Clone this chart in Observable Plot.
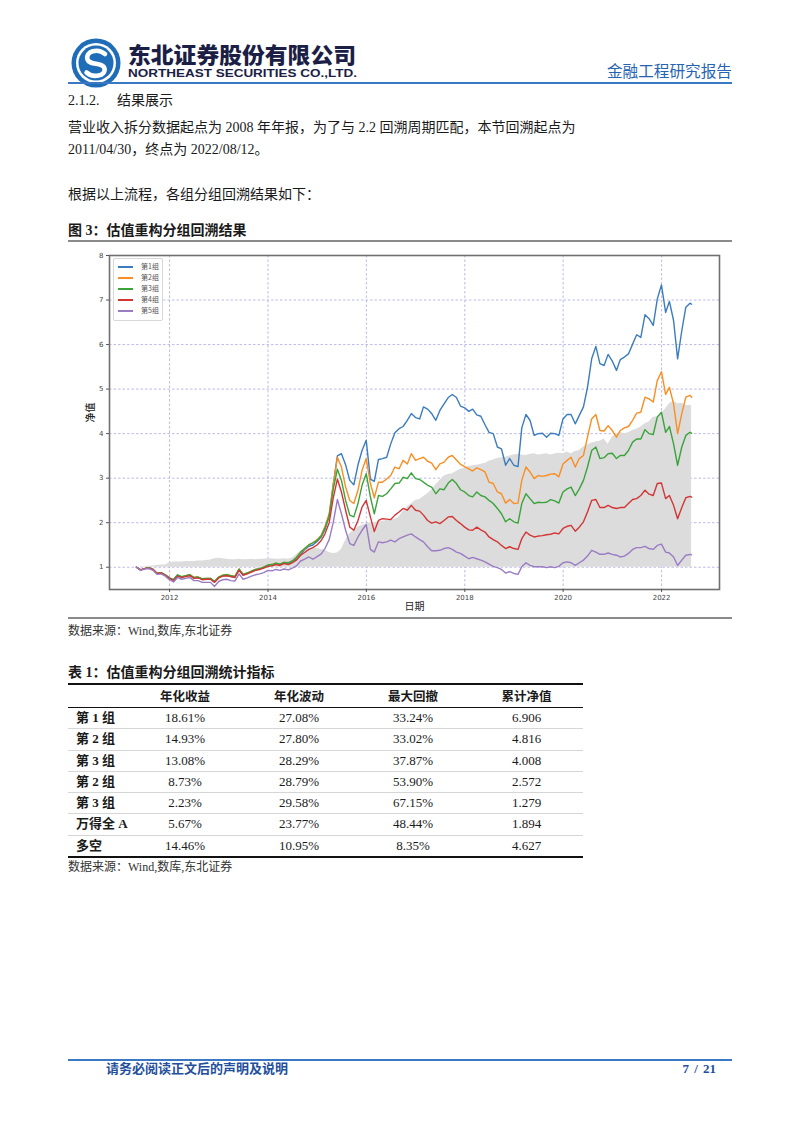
<!DOCTYPE html>
<html>
<head>
<meta charset="utf-8">
<script src="https://cdn.jsdelivr.net/npm/d3@7"></script>
<script src="https://cdn.jsdelivr.net/npm/@observablehq/plot@0.6"></script>
<style>
  body { margin: 0; background: #fff; }
  #page { position: relative; width: 802px; height: 1133px; overflow: hidden;
          font-family: "Liberation Serif", "Noto Sans CJK SC", serif; color: #1a1a1a; }
  .t { position: absolute; white-space: nowrap; }
  .rule { position: absolute; }
  .body14 { font-size: 14px; line-height: 20px; font-weight: 400; }
  .bold14 { font-size: 14px; line-height: 20px; font-weight: 700; }
  .src { font-size: 12px; line-height: 16px; color: #333; }
  #legend { position: absolute; left: 45px; top: 10px; width: 48px; height: 61px;
            border: 1px solid #d8d8d8; border-radius: 2px; background: rgba(255,255,255,0.9);
            font-family: "Noto Sans CJK SC", sans-serif; font-size: 7px; color: #555; }
  #legend .it { position: absolute; left: 0; height: 10px; line-height: 10px; }
  #legend .sw { position: absolute; left: 4px; top: 5px; width: 15px; height: 1.5px; }
  #legend .lb { position: absolute; left: 27px; top: 0; }
  #tbl { position: absolute; left: 68px; top: 683px; width: 515px; }
  #tbl .row { display: grid; grid-template-columns: 60px 114px 114px 114px 113px; }
  #tbl .cell { text-align: center; font-size: 13px; }
  #tbl .lab { text-align: left; padding-left: 8px; font-weight: 700; font-size: 13px; }
</style>
</head>
<body>
<div id="page">
  <!-- header -->
  <svg class="t" style="left:71px;top:38px" width="50" height="50" viewBox="0 0 50 50">
    <circle cx="25" cy="25" r="24.5" fill="#1f6cb8"/>
    <circle cx="25" cy="25" r="20" fill="#fff"/>
    <circle cx="25" cy="25" r="17.5" fill="#1f6cb8"/>
    <path d="M34 16 C 27 10, 14 13, 16.5 21.5 C 18.5 28, 32 23.5, 33.5 30.5 C 35 38, 22 40.5, 15.5 34.5" stroke="#fff" stroke-width="4.6" fill="none" stroke-linecap="round"/>
  </svg>
  <div class="t" id="cname" style="left:128px;top:41px;font-family:'Noto Sans CJK SC';font-weight:900;font-size:22px;line-height:24px;color:#1b1e45;transform-origin:0 0;">东北证券股份有限公司</div>
  <div class="t" id="ename" style="left:128px;top:67px;font-family:'Liberation Sans';font-weight:700;font-size:11.5px;line-height:12px;color:#1b1e45;transform-origin:0 0;">NORTHEAST SECURITIES CO.,LTD.</div>
  <div class="t" id="rtitle" style="left:607px;top:60px;font-family:'Noto Sans CJK SC';font-weight:400;font-size:15.5px;line-height:20px;color:#2563b3;transform-origin:0 0;">金融工程研究报告</div>
  <div class="rule" style="left:68px;top:82px;width:664px;height:2px;background:#3b78c4;"></div>

  <!-- body text -->
  <div class="t body14" style="left:68px;top:91px;">2.1.2.</div>
  <div class="t body14" style="left:117px;top:91px;">结果展示</div>
  <div class="t body14" style="left:68px;top:118px;">营业收入拆分数据起点为 2008 年年报，为了与 2.2 回溯周期匹配，本节回溯起点为</div>
  <div class="t body14" style="left:68px;top:140px;">2011/04/30，终点为 2022/08/12。</div>
  <div class="t body14" style="left:68px;top:185px;">根据以上流程，各组分组回溯结果如下：</div>

  <div class="t bold14" style="left:68px;top:221px;">图 3：估值重构分组回溯结果</div>
  <div class="rule" style="left:68px;top:240px;width:664px;height:2px;background:#8a8a8a;"></div>

  <div id="chart" style="position:absolute;left:68px;top:248px;width:664px;height:364px;"></div>

  <div class="rule" style="left:68px;top:617px;width:664px;height:2px;background:#8a8a8a;"></div>
  <div class="t src" style="left:68px;top:623px;">数据来源：Wind,数库,东北证券</div>

  <div class="t bold14" style="left:68px;top:663px;">表 1：估值重构分组回溯统计指标</div>
  <div id="tbl"></div>
  <div class="t src" style="left:68px;top:859px;">数据来源：Wind,数库,东北证券</div>

  <!-- footer -->
  <div class="rule" style="left:68px;top:1059px;width:664px;height:1.5px;background:#3b78c4;"></div>
  <div class="t" style="left:106px;top:1061px;font-size:13px;line-height:16px;font-weight:700;color:#234f9c;">请务必阅读正文后的声明及说明</div>
  <div class="t" style="right:86px;top:1061px;font-size:13px;line-height:16px;font-weight:700;color:#234f9c;word-spacing:2px;">7 / 21</div>
</div>

<script>
// ---------------- data ----------------
const seriesNames = ["第1组", "第2组", "第3组", "第4组", "第5组"];
const seriesColors = ["#3a7cbd", "#f98e22", "#3aa33a", "#d33535", "#9a7bc4"];

const group1 = [
  1.00,0.94,0.97,0.99,0.95,0.86,0.88,0.82,0.75,0.72,
  0.82,0.78,0.80,0.83,0.76,0.77,0.73,0.74,0.74,0.67,
  0.77,0.81,0.82,0.79,0.78,0.96,0.83,0.86,0.90,0.94,
  0.96,0.99,1.04,1.05,1.08,1.06,1.10,1.08,1.12,1.18,
  1.28,1.40,1.47,1.50,1.58,1.68,1.85,2.15,2.85,3.50,
  3.55,3.30,2.95,2.85,3.30,3.62,3.85,2.98,2.93,3.42,
  3.44,3.47,3.77,4.02,4.11,4.16,4.30,4.45,4.36,4.33,
  4.60,4.55,4.45,4.30,4.52,4.67,4.81,4.88,4.81,4.62,
  4.58,4.50,4.55,4.42,4.39,4.20,4.03,4.00,3.70,3.66,
  3.29,3.44,3.29,3.26,4.13,4.43,4.30,3.96,4.00,4.01,
  3.92,4.01,4.00,3.96,4.33,4.43,4.43,4.22,4.41,4.60,
  5.04,5.68,5.96,5.57,5.53,5.78,5.63,5.42,5.66,5.72,
  5.79,6.01,6.22,6.16,6.67,6.58,6.43,7.02,7.34,6.72,
  6.97,6.54,5.68,6.31,6.84,6.93,6.906
];
const group2 = [
  1.00,0.94,0.97,0.99,0.95,0.87,0.88,0.83,0.76,0.71,
  0.81,0.78,0.81,0.83,0.77,0.78,0.74,0.75,0.75,0.68,
  0.78,0.82,0.84,0.81,0.80,0.96,0.84,0.87,0.91,0.95,
  0.97,1.00,1.05,1.06,1.09,1.07,1.11,1.10,1.14,1.22,
  1.33,1.42,1.50,1.55,1.62,1.72,1.92,2.20,2.85,3.47,
  3.25,2.80,2.50,2.43,2.73,3.17,3.44,2.88,2.56,2.91,
  2.91,2.98,3.06,3.25,3.21,3.40,3.32,3.55,3.40,3.44,
  3.47,3.38,3.34,3.19,3.32,3.36,3.47,3.51,3.41,3.31,
  3.26,3.21,3.16,3.23,3.19,3.14,2.91,2.88,2.69,2.65,
  2.44,2.52,2.43,2.44,2.95,3.25,3.14,2.99,3.06,3.04,
  3.06,3.09,3.10,3.03,3.32,3.40,3.47,3.25,3.44,3.51,
  3.92,4.33,4.43,4.07,4.06,4.18,4.07,3.92,4.07,4.13,
  4.16,4.30,4.46,4.48,4.82,4.78,4.71,5.19,5.39,4.88,
  5.04,4.67,4.00,4.45,4.82,4.86,4.816
];
const group3 = [
  1.00,0.94,0.97,0.99,0.95,0.86,0.88,0.83,0.76,0.72,
  0.83,0.79,0.81,0.83,0.77,0.78,0.74,0.75,0.75,0.68,
  0.78,0.82,0.83,0.81,0.79,0.95,0.84,0.87,0.91,0.95,
  0.97,1.00,1.05,1.06,1.09,1.07,1.11,1.10,1.14,1.22,
  1.34,1.42,1.50,1.55,1.60,1.70,1.88,2.15,2.75,3.20,
  2.95,2.50,2.17,2.13,2.43,2.84,3.10,2.58,2.20,2.61,
  2.59,2.65,2.76,2.88,2.89,3.02,2.99,3.12,2.99,2.97,
  2.91,2.84,2.80,2.65,2.76,2.74,2.89,2.97,2.88,2.74,
  2.69,2.61,2.58,2.69,2.61,2.58,2.50,2.43,2.32,2.20,
  2.02,2.09,2.02,1.99,2.43,2.65,2.54,2.43,2.46,2.45,
  2.46,2.52,2.49,2.44,2.69,2.76,2.80,2.61,2.76,2.95,
  3.25,3.62,3.70,3.44,3.46,3.55,3.56,3.44,3.51,3.51,
  3.62,3.81,3.88,3.88,4.09,4.00,3.98,4.37,4.48,4.03,
  4.16,3.77,3.29,3.70,3.96,4.03,4.008
];
const group4 = [
  1.00,0.94,0.97,0.98,0.95,0.86,0.87,0.82,0.75,0.70,
  0.80,0.77,0.79,0.81,0.75,0.76,0.72,0.73,0.73,0.66,
  0.76,0.80,0.81,0.79,0.77,0.93,0.82,0.85,0.89,0.93,
  0.95,0.98,1.02,1.03,1.06,1.04,1.08,1.06,1.10,1.16,
  1.27,1.33,1.40,1.44,1.50,1.60,1.75,2.00,2.55,2.98,
  2.69,2.28,1.90,1.83,2.05,2.35,2.50,2.13,1.80,2.05,
  2.09,2.08,2.07,2.17,2.24,2.32,2.28,2.39,2.28,2.26,
  2.17,2.05,1.99,2.02,1.98,2.05,2.13,2.14,2.05,1.98,
  1.90,1.84,1.83,1.90,1.84,1.79,1.68,1.62,1.57,1.49,
  1.42,1.46,1.42,1.40,1.64,1.79,1.72,1.68,1.70,1.71,
  1.73,1.74,1.77,1.75,1.87,1.92,1.94,1.81,1.90,2.02,
  2.24,2.50,2.52,2.34,2.34,2.39,2.34,2.32,2.34,2.34,
  2.43,2.52,2.54,2.61,2.73,2.64,2.61,2.88,2.89,2.54,
  2.61,2.39,2.09,2.34,2.56,2.59,2.572
];
const group5 = [
  1.00,0.93,0.96,0.97,0.93,0.84,0.85,0.80,0.72,0.67,
  0.77,0.73,0.75,0.77,0.70,0.70,0.66,0.66,0.66,0.57,
  0.68,0.72,0.73,0.70,0.69,0.85,0.73,0.76,0.80,0.83,
  0.85,0.88,0.93,0.92,0.95,0.93,0.96,0.94,0.98,1.03,
  1.14,1.18,1.23,1.18,1.24,1.30,1.42,1.62,2.00,2.52,
  2.20,1.83,1.53,1.49,1.68,1.83,1.96,1.40,1.34,1.57,
  1.55,1.57,1.61,1.57,1.64,1.68,1.72,1.75,1.68,1.62,
  1.57,1.46,1.37,1.37,1.38,1.42,1.44,1.40,1.34,1.31,
  1.25,1.19,1.22,1.19,1.16,1.12,1.07,1.02,0.99,0.95,
  0.87,0.90,0.86,0.84,1.01,1.10,1.04,1.01,1.01,1.01,
  0.99,1.01,0.99,1.02,1.10,1.12,1.10,1.04,1.10,1.16,
  1.25,1.38,1.34,1.29,1.29,1.32,1.29,1.27,1.23,1.25,
  1.31,1.40,1.44,1.44,1.47,1.42,1.40,1.49,1.52,1.34,
  1.32,1.23,1.04,1.16,1.27,1.29,1.279
];
// long-short (多空) net value, drawn as grey area from 1
const longShort = [
  1.00,1.00,1.01,1.02,1.03,1.04,1.05,1.05,1.10,1.12,
  1.12,1.12,1.13,1.13,1.13,1.14,1.14,1.15,1.16,1.19,
  1.20,1.19,1.18,1.17,1.17,1.18,1.17,1.17,1.18,1.17,
  1.18,1.18,1.19,1.19,1.18,1.18,1.19,1.18,1.20,1.28,
  1.36,1.40,1.42,1.42,1.42,1.40,1.38,1.33,1.31,1.32,
  1.40,1.60,1.75,1.83,1.90,1.94,1.97,2.00,2.00,2.02,
  2.03,2.05,2.05,2.08,2.12,2.25,2.35,2.42,2.50,2.52,
  2.58,2.65,2.73,2.85,2.95,3.05,3.08,3.10,3.15,3.20,
  3.22,3.26,3.28,3.29,3.31,3.33,3.38,3.41,3.44,3.46,
  3.47,3.50,3.52,3.53,3.52,3.51,3.53,3.55,3.52,3.53,
  3.55,3.52,3.54,3.56,3.55,3.59,3.55,3.60,3.62,3.70,
  3.74,3.79,3.81,3.83,3.88,3.76,3.92,4.00,4.03,4.00,
  4.02,4.07,4.10,4.15,4.22,4.26,4.37,4.38,4.45,4.56,
  4.67,4.73,4.67,4.68,4.63,4.63,4.627
];
const startMonth = [2011, 4];        // first month-end: 2011/04/30
const endDate = "2022-08-12";         // last observation
const yearTickLabels = [2012, 2014, 2016, 2018, 2020, 2022];
const yTickLabels = [1, 2, 3, 4, 5, 6, 7, 8];

// table
const tblHeader = ["", "年化收益", "年化波动", "最大回撤", "累计净值"];
const tblRows = ["第 1 组", "第 2 组", "第 3 组", "第 2 组", "第 3 组", "万得全 A", "多空"];
const annReturn = ["18.61%", "14.93%", "13.08%", "8.73%", "2.23%", "5.67%", "14.46%"];
const annVol = ["27.08%", "27.80%", "28.29%", "28.79%", "29.58%", "23.77%", "10.95%"];
const maxDD = ["33.24%", "33.02%", "37.87%", "53.90%", "67.15%", "48.44%", "8.35%"];
const cumNav = ["6.906", "4.816", "4.008", "2.572", "1.279", "1.894", "4.627"];

// ---------------- build ----------------
const groups = [group1, group2, group3, group4, group5];
const n = group1.length;
const dates = d3.range(n).map(i => i === n - 1
  ? new Date(endDate + "T00:00:00Z")
  : new Date(Date.UTC(startMonth[0], startMonth[1] + i, 0)));
const lineRows = [];
groups.forEach((g, k) => g.forEach((v, i) => lineRows.push({date: dates[i], v, series: seriesNames[k]})));
const lsRows = longShort.map((v, i) => ({date: dates[i], v}));
const yearTicks = yearTickLabels.map(y => new Date(Date.UTC(y, 0, 1)));
const xDomain = [new Date(Date.UTC(2010, 9, 12)), new Date(Date.UTC(2023, 2, 7))];

const gridStyle = {stroke: "#a9a9e6", strokeOpacity: 1, strokeWidth: 0.8, strokeDasharray: "2.5,2"};

const chart = Plot.plot({
  width: 664,
  height: 364,
  marginLeft: 41,
  marginRight: 13,
  marginTop: 7,
  marginBottom: 23,
  style: {fontFamily: "DejaVu Sans, sans-serif", fontSize: "7px", color: "#444", background: "transparent", overflow: "visible"},
  x: {type: "utc", domain: xDomain},
  y: {domain: [0.5, 8]},
  color: {domain: seriesNames, range: seriesColors},
  marks: [
    Plot.gridX(yearTicks, gridStyle),
    Plot.gridY(yTickLabels, gridStyle),
    Plot.areaY(lsRows, {x: "date", y1: 1, y2: "v", fill: "#dcdcdc", fillOpacity: 1}),
    Plot.lineY(lineRows, {x: "date", y: "v", z: "series", stroke: "series", strokeWidth: 1.4}),
    Plot.frame({stroke: "#707070", strokeWidth: 1.6}),
    Plot.axisX(yearTicks, {tickFormat: "%Y", tickSize: 3, tickPadding: 3, label: null, stroke: "#555"}),
    Plot.axisY(yTickLabels, {tickSize: 3, tickPadding: 3, label: null, stroke: "#555"}),
    Plot.text(["日期"], {text: d => d, frameAnchor: "bottom", dy: 20, fontSize: 10, fontFamily: "Noto Sans CJK SC", fill: "#222"}),
    Plot.text(["净值"], {text: d => d, frameAnchor: "left", dx: -19, rotate: -90, fontSize: 10, fontWeight: 500, fontFamily: "Noto Sans CJK SC", fill: "#222"})
  ]
});
const chartBox = document.getElementById("chart");
chartBox.appendChild(chart);

// legend (HTML overlay inside the axes, like matplotlib's)
const legend = document.createElement("div");
legend.id = "legend";
seriesNames.forEach((s, k) => {
  const it = document.createElement("div");
  it.className = "it";
  it.style.top = (2 + k * 11) + "px";
  it.style.width = "100%";
  it.innerHTML = `<div class="sw" style="background:${seriesColors[k]}"></div><div class="lb">${s}</div>`;
  legend.appendChild(it);
});
chartBox.appendChild(legend);

// table
const tbl = document.getElementById("tbl");
function addRow(cells, opts) {
  const r = document.createElement("div");
  r.className = "row";
  r.style.height = opts.h + "px";
  r.style.lineHeight = opts.h + "px";
  if (opts.top) r.style.borderTop = opts.top;
  if (opts.bottom) r.style.borderBottom = opts.bottom;
  cells.forEach((c, j) => {
    const d = document.createElement("div");
    d.className = j === 0 ? "lab" : "cell";
    if (opts.bold) { d.style.fontWeight = 700; d.style.fontFamily = "'Noto Sans CJK SC'"; d.style.fontSize = "12.5px"; }
    d.textContent = c;
    r.appendChild(d);
  });
  tbl.appendChild(r);
}
addRow(tblHeader, {h: 22, top: "2px solid #111", bottom: "1.5px solid #111", bold: true});
tblRows.forEach((lab, i) => {
  addRow([lab, annReturn[i], annVol[i], maxDD[i], cumNav[i]], {
    h: 20.3,
    bottom: i === tblRows.length - 1 ? "2.5px solid #111" : "1px solid #d6d6d6"
  });
});

// fit header texts to their reference widths
function fit(id, w) {
  const el = document.getElementById(id);
  const cw = el.getBoundingClientRect().width;
  if (cw > 0) el.style.transform = `scaleX(${w / cw})`;
}
fit("cname", 228);
fit("ename", 229);
fit("rtitle", 125);
</script>
</body>
</html>
